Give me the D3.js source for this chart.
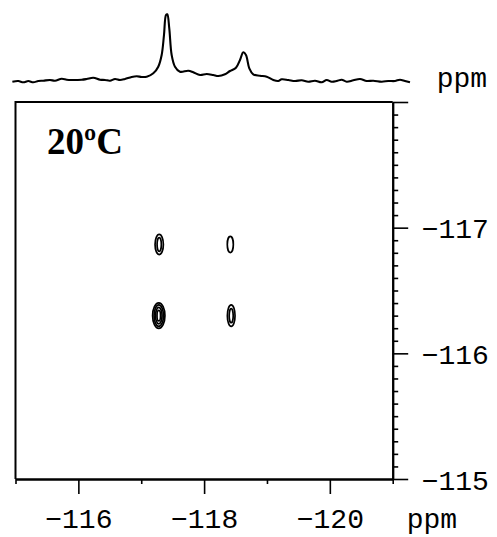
<!DOCTYPE html>
<html>
<head>
<meta charset="utf-8">
<script src="https://cdn.jsdelivr.net/npm/d3@7"></script>
<style>
  html, body { margin: 0; padding: 0; background: #fff; }
  svg { display: block; }
</style>
</head>
<body>
<svg id="chart" width="497" height="537"></svg>
<script>
// ---- data ----
// F2 (horizontal) axis ticks, ppm
const xMajorTicks = [-116, -118, -120];
const xMinorTicks = [-115, -117, -119, -121];
// F1 (vertical) axis ticks, ppm
const yMajorTicks = [-118, -117, -116, -115];
const yLabelled = [-117, -116, -115];
const axisUnit = "ppm";
const tempLabel = "20ºC";

// 1D projection (ppm, intensity a.u.)
const specPpm = [-114.95,-115.045,-115.124,-115.204,-115.283,-115.363,-115.442,-115.549,-115.628,-115.735,-115.814,-115.894,-116.053,-116.132,-116.237,-116.344,-116.424,-116.503,-116.583,-116.662,-116.742,-116.848,-116.928,-117.007,-117.087,-117.192,-117.271,-117.325,-117.362,-117.394,-117.414,-117.446,-117.484,-117.537,-117.616,-117.749,-117.828,-117.935,-118.041,-118.146,-118.226,-118.332,-118.412,-118.507,-118.571,-118.623,-118.666,-118.719,-118.782,-118.889,-118.996,-119.101,-119.18,-119.234,-119.339,-119.446,-119.552,-119.657,-119.764,-119.87,-119.95,-120.029,-120.109,-120.188,-120.268,-120.373,-120.48,-120.586,-120.691,-120.825,-120.93,-121.036,-121.116,-121.195,-121.275];
const specInt = [2.3,3.0,1.7,3.0,1.7,3.0,3.3,4.0,3.3,5.3,4.3,4.0,4.3,5.0,6.3,4.3,4.0,3.3,5.0,4.0,5.0,7.0,7.7,7.0,7.3,10.7,17.3,29,49,69,69.7,55.7,29,17.3,12.3,13.3,11.7,9,10,9,8,9.7,13,16.3,24,31.7,29,15.7,9.7,8.3,7.3,4,3,4.7,4,3,3.7,2.3,3.3,1.7,4,2.3,3,4.3,2.3,3.7,5,3,3.3,2.3,3,3,4.3,3,1.7];

// 2D cross peaks: centres (ppm) and contour level half-widths (ppm)
const peakX = [-117.286, -118.417, -117.279, -118.431];
const peakY = [-116.866, -116.866, -116.300, -116.300];
const levelRx = [[0.066, 0.034], [0.048], [0.098, 0.075, 0.052, 0.028], [0.061, 0.032]];
const levelRy = [[0.080, 0.055], [0.064], [0.102, 0.085, 0.065, 0.042], [0.086, 0.056]];

// ---- drawing ----
const svg = d3.select("#chart");
svg.append("rect").attr("width", 497).attr("height", 537).attr("fill", "#fff");

const x = d3.scaleLinear().domain([-115, -121]).range([15.5, 392.7]);
const y = d3.scaleLinear().domain([-118, -115]).range([102, 479]);
const ys = d3.scaleLinear().domain([0, 70]).range([84, 14]);

const FONT = "'Liberation Mono', 'DejaVu Sans Mono', monospace";

// projection
const line = d3.line()
  .x((d, i) => x(specPpm[i]))
  .y(d => ys(d))
  .curve(d3.curveCatmullRom.alpha(0.5));
svg.append("path")
  .datum(specInt)
  .attr("d", line)
  .attr("fill", "none")
  .attr("stroke", "#000")
  .attr("stroke-width", 2.1)
  .attr("stroke-linejoin", "round");

svg.append("text")
  .attr("x", 436.7).attr("y", 87.3)
  .attr("font-family", FONT).attr("font-size", 28)
  .text(axisUnit);

// frame (top + left)
svg.append("path")
  .attr("d", `M${x(-115)},${y(-115)}V${y(-118)}H${x(-121)}`)
  .attr("fill", "none").attr("stroke", "#000").attr("stroke-width", 2);

// x axis
const fmt = d => d3.format("d")(d);
const gx = svg.append("g").attr("transform", `translate(0,${y(-115)})`);
gx.call(d3.axisBottom(x).tickValues(xMinorTicks).tickSize(5).tickSizeOuter(0).tickFormat(""));
const gx2 = svg.append("g").attr("transform", `translate(0,${y(-115)})`);
gx2.call(d3.axisBottom(x).tickValues(xMajorTicks).tickSize(15).tickSizeOuter(0).tickFormat(fmt));
[gx, gx2].forEach(g => {
  g.select(".domain").attr("stroke-width", 2);
  g.selectAll(".tick line").attr("stroke-width", 1.6);
});
gx2.selectAll(".tick text")
  .attr("y", 48.7).attr("dy", null)
  .attr("font-family", FONT).attr("font-size", 28).attr("fill", "#000");

svg.append("text")
  .attr("x", 406.7).attr("y", 528)
  .attr("font-family", FONT).attr("font-size", 28)
  .text(axisUnit);

// y axis
const yMinor = d3.range(0, 31).map(i => -118 + i * 0.1).filter(v => Math.abs(v - Math.round(v)) > 1e-6);
const gy = svg.append("g").attr("transform", `translate(${x(-121)},0)`);
gy.call(d3.axisRight(y).tickValues(yMinor).tickSize(5.5).tickSizeOuter(0).tickFormat(""));
const gy2 = svg.append("g").attr("transform", `translate(${x(-121)},0)`);
gy2.call(d3.axisRight(y).tickValues(yMajorTicks).tickSize(15.5).tickSizeOuter(0)
  .tickFormat(d => yLabelled.includes(d) ? fmt(d) : ""));
[gy, gy2].forEach(g => {
  g.select(".domain").attr("stroke-width", 2);
  g.selectAll(".tick line").attr("stroke-width", 1.6);
});
gy2.selectAll(".tick text")
  .attr("x", 29).attr("dy", "0.36em")
  .attr("font-family", FONT).attr("font-size", 28).attr("fill", "#000");

// temperature label
svg.append("text")
  .attr("x", 47).attr("y", 154)
  .attr("font-family", "'Liberation Serif', 'Times New Roman', serif")
  .attr("font-weight", "bold").attr("font-size", 37)
  .text(tempLabel);

// contours
const gc = svg.append("g");
peakX.forEach((px, i) => {
  levelRx[i].forEach((rx, j) => {
    gc.append("ellipse")
      .attr("cx", x(px)).attr("cy", y(peakY[i]))
      .attr("rx", Math.abs(x(px + rx) - x(px)))
      .attr("ry", Math.abs(y(peakY[i] + levelRy[i][j]) - y(peakY[i])))
      .attr("fill", "none").attr("stroke", "#000").attr("stroke-width", 1.7);
  });
});
</script>
</body>
</html>
